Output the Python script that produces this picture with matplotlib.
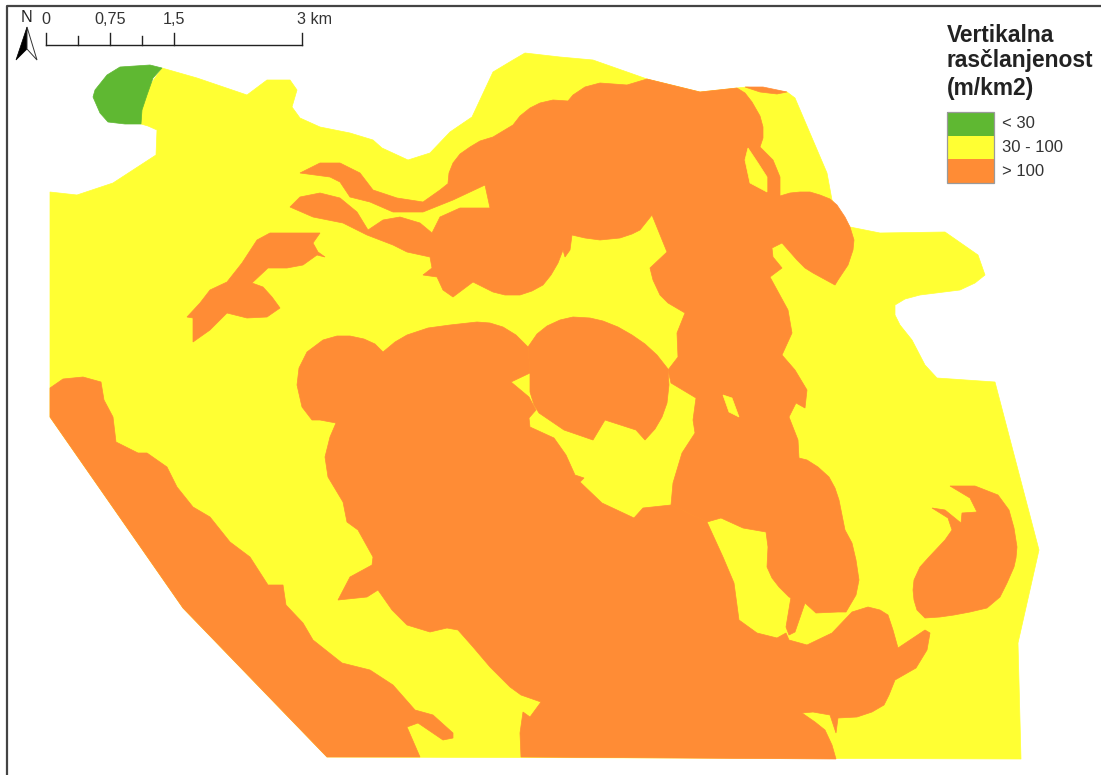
import matplotlib
matplotlib.use('Agg')
import matplotlib.pyplot as plt
from matplotlib.patches import Rectangle, Polygon

plt.rcParams['font.family'] = ['Liberation Sans', 'DejaVu Sans']

GREEN = '#5fb832'
YELLOW = '#ffff33'
ORANGE = '#ff8c35'

# map outlines, as (x, y) in map units
study_area = [(141, 124), (148, 126), (157, 130), (156, 155), (113, 183), (77, 195), (50, 192), (50, 417),
              (183, 608), (327, 757), (1021, 759), (1018, 643), (1039, 550), (995, 382), (937, 378), (925, 365),
              (912, 340), (900, 325), (895, 315), (895, 305), (905, 299), (920, 295), (960, 290), (975, 283),
              (985, 275), (978, 255), (945, 232), (880, 233), (850, 227), (832, 200), (827, 173), (795, 98),
              (787, 92), (747, 87), (737, 88), (700, 92), (647, 79), (630, 73), (593, 60), (560, 57),
              (525, 53), (513, 60), (493, 72), (472, 117), (450, 132), (430, 153), (408, 160), (382, 148),
              (373, 140), (350, 133), (320, 127), (300, 118), (292, 107), (297, 90), (290, 80), (267, 80),
              (247, 95), (197, 78), (162, 68), (150, 85), (142, 105)]

low_area = [(150, 65), (120, 67), (107, 75), (95, 90), (93, 97), (100, 113), (108, 122), (125, 124), (141, 124),
            (142, 110), (147, 95), (153, 78), (162, 68)]

sw_strip = [(50, 388), (63, 379), (83, 377), (101, 382), (104, 400), (113, 417), (116, 442), (138, 453),
            (147, 453), (167, 467), (177, 487), (193, 507), (210, 517), (230, 542), (250, 557), (268, 585),
            (283, 585), (286, 605), (303, 623), (313, 640), (342, 663), (370, 670), (393, 685), (415, 710),
            (433, 715), (453, 733), (453, 738), (443, 740), (418, 723), (407, 727), (420, 757), (327, 757),
            (183, 608), (50, 417)]

south_mass = [(297, 385), (299, 368), (307, 352), (323, 340), (337, 336), (350, 336), (364, 339), (375, 344),
              (383, 352), (395, 342), (407, 335), (428, 328), (450, 325), (477, 322), (490, 323), (503, 327),
              (516, 335), (528, 347), (530, 373), (511, 382), (529, 397), (536, 410), (529, 418), (530, 427),
              (554, 438), (566, 455), (575, 475), (584, 478), (580, 482), (602, 503), (634, 518), (643, 508),
              (671, 505), (707, 522), (723, 557), (734, 583), (739, 620), (757, 633), (777, 638), (786, 633),
              (789, 640), (807, 645), (832, 633), (852, 612), (868, 607), (880, 610), (888, 615), (893, 630),
              (898, 648), (925, 630), (930, 633), (927, 650), (916, 668), (895, 680), (889, 695), (884, 705),
              (872, 712), (857, 717), (838, 718), (836, 733), (830, 715), (813, 712), (802, 713), (815, 722),
              (825, 730), (832, 745), (836, 759), (521, 757), (520, 733), (523, 712), (530, 717), (541, 702),
              (521, 695), (510, 687), (490, 667), (473, 647), (458, 630), (447, 628), (430, 632), (407, 625),
              (392, 610), (378, 590), (367, 597), (338, 600), (350, 577), (372, 565), (373, 557), (358, 530),
              (347, 522), (343, 502), (328, 477), (325, 457), (330, 437), (336, 423), (320, 420), (312, 420),
              (302, 407)]

middle_lobe = [(528, 347), (537, 334), (547, 326), (560, 320), (573, 317), (590, 318), (603, 321), (618, 327),
               (632, 335), (645, 344), (657, 355), (668, 369), (669, 385), (667, 403), (662, 417), (655, 429),
               (645, 440), (636, 430), (605, 420), (593, 440), (564, 430), (539, 413), (534, 405), (530, 392),
               (530, 373)]

north_mass = [(668, 370), (671, 383), (696, 398), (693, 420), (695, 433), (682, 453), (673, 483), (671, 505),
              (707, 522), (721, 518), (743, 528), (766, 532), (768, 547), (767, 567), (772, 578), (779, 587),
              (789, 597), (805, 603), (816, 613), (838, 612), (846, 612), (856, 595), (859, 580), (856, 560),
              (852, 543), (845, 530), (839, 500), (835, 488), (829, 477), (818, 467), (807, 460), (799, 458),
              (798, 440), (789, 417), (796, 403), (805, 408), (807, 390), (795, 370), (782, 355), (792, 333),
              (788, 310), (770, 277), (782, 268), (773, 257), (772, 248), (782, 243), (797, 260), (805, 268),
              (813, 273), (835, 285), (838, 280), (848, 265), (853, 250), (854, 240), (850, 227), (845, 217),
              (837, 205), (830, 199), (820, 195), (810, 192), (800, 192), (790, 193), (780, 196), (780, 177),
              (773, 160), (760, 147), (763, 138), (763, 127), (760, 116), (752, 102), (745, 93), (737, 88),
              (700, 92), (647, 79), (627, 85), (600, 83), (585, 87), (573, 95), (568, 101), (553, 100),
              (540, 103), (530, 108), (520, 116), (513, 125), (503, 131), (493, 137), (480, 141), (470, 147),
              (460, 154), (453, 163), (449, 173), (448, 183), (485, 185), (490, 208), (460, 208), (440, 217),
              (432, 233), (420, 223), (400, 217), (383, 220), (368, 230), (357, 212), (340, 198), (320, 193),
              (300, 197), (290, 207), (313, 217), (343, 223), (367, 235), (393, 245), (407, 252), (430, 257),
              (432, 268), (423, 275), (437, 277), (443, 290), (453, 297), (473, 282), (493, 292), (505, 295),
              (520, 295), (532, 291), (543, 285), (551, 275), (558, 263), (563, 250), (565, 257), (570, 250),
              (572, 235), (585, 238), (600, 240), (620, 238), (632, 234), (640, 230), (652, 215), (667, 252),
              (650, 268), (653, 280), (660, 295), (668, 303), (685, 313), (677, 333), (678, 357)]

ribbon = [(300, 173), (320, 163), (340, 163), (360, 173), (373, 190), (397, 198), (423, 202), (440, 190),
          (450, 182), (485, 180), (485, 185), (453, 200), (423, 212), (393, 212), (370, 202), (350, 197),
          (340, 182), (330, 177)]

west_island = [(257, 240), (270, 233), (320, 233), (313, 243), (318, 252), (325, 257), (317, 255), (303, 265),
               (287, 268), (268, 268), (252, 283), (263, 287), (272, 297), (280, 308), (267, 317), (247, 318),
               (227, 313), (210, 330), (193, 342), (193, 318), (187, 317), (200, 303), (210, 290), (227, 282),
               (242, 263)]

east_island = [(950, 486), (975, 486), (998, 495), (1009, 510), (1014, 528), (1017, 547), (1016, 558), (1014, 567),
               (1007, 583), (1000, 597), (987, 608), (970, 612), (954, 615), (940, 617), (925, 618), (917, 610),
               (914, 600), (913, 590), (914, 580), (920, 567), (929, 557), (945, 540), (952, 530), (948, 518),
               (932, 508), (945, 510), (961, 523), (962, 513), (977, 512), (970, 498)]

top_sliver = [(745, 87), (763, 87), (787, 92), (777, 94), (760, 92)]
spur = [(791, 597), (786, 627), (789, 635), (795, 632), (805, 603)]

holes = [[(748, 148), (745, 160), (750, 183), (767, 192), (767, 177), (758, 163)],
         [(723, 395), (732, 398), (739, 417), (729, 412)]]

orange_parts = [sw_strip, south_mass, middle_lobe, north_mass, ribbon, west_island, east_island, top_sliver, spur]

legend_labels = ['< 30', '30 - 100', '> 100']
legend_colors = [GREEN, YELLOW, ORANGE]
scale_ticks = [46, 78, 110, 142, 174, 302]
scale_labels = {46: '0', 110: '0,75', 174: '1,5', 302: '3 km'}

fig = plt.figure(figsize=(11.01, 7.75), dpi=100)
ax = fig.add_axes([0, 0, 1, 1])
ax.set_xlim(0, 1101)
ax.set_ylim(775, 0)
ax.axis('off')


def fill_shape(pts, color, z):
    ax.add_patch(Polygon(pts, closed=True, facecolor=color, edgecolor=color, linewidth=0.5, zorder=z))


fill_shape(study_area, YELLOW, 1)
fill_shape(low_area, GREEN, 2)
for part in orange_parts:
    fill_shape(part, ORANGE, 3)
for hole in holes:
    fill_shape(hole, YELLOW, 4)

# frame, only top and left are visible
ax.plot([7, 7, 1101], [775, 6, 6], color='#444444', lw=1.6, zorder=5)

# scale bar
ax.plot([scale_ticks[0], scale_ticks[-1]], [45, 45], color='#222222', lw=1, zorder=6)
for t in scale_ticks:
    top = 33 if t in scale_labels else 36
    ax.plot([t, t], [top, 45], color='#222222', lw=1, zorder=6)
for t, lab in scale_labels.items():
    if lab.endswith('km'):
        ax.text(t - 5, 20, lab, fontsize=11.6, color='#333333', ha='left', va='center')
    else:
        ax.text(t, 20, lab, fontsize=11.6, color='#333333', ha='center', va='center')

# north arrow
ax.text(26, 17, 'N', fontsize=11.6, color='#222222', ha='center', va='center')
ax.add_patch(Polygon([(27, 27), (16, 60), (27, 49)], facecolor='black', edgecolor='black', lw=0.5, zorder=6))
ax.add_patch(Polygon([(27, 27), (37, 60), (27, 49)], facecolor='white', edgecolor='#333333', lw=0.7, zorder=6))

# legend
ax.text(947, 35, 'Vertikalna', fontsize=16.4, fontweight='bold', color='#222222', ha='left', va='center')
ax.text(947, 60, 'rasčlanjenost', fontsize=16.4, fontweight='bold', color='#222222', ha='left', va='center')
ax.text(947, 88, '(m/km2)', fontsize=16.4, fontweight='bold', color='#222222', ha='left', va='center')
for i, (lab, col) in enumerate(zip(legend_labels, legend_colors)):
    y0 = 112 + i * 23.5
    ax.add_patch(Rectangle((947, y0), 47, 23.5, facecolor=col, edgecolor='none', zorder=6))
    ax.text(1002, y0 + 12, lab, fontsize=12, color='#333333', ha='left', va='center')
ax.add_patch(Rectangle((947, 112), 47, 70.5, facecolor='none', edgecolor='#9a9a9a', lw=0.9, zorder=7))

fig.savefig('out.png', dpi=100)
